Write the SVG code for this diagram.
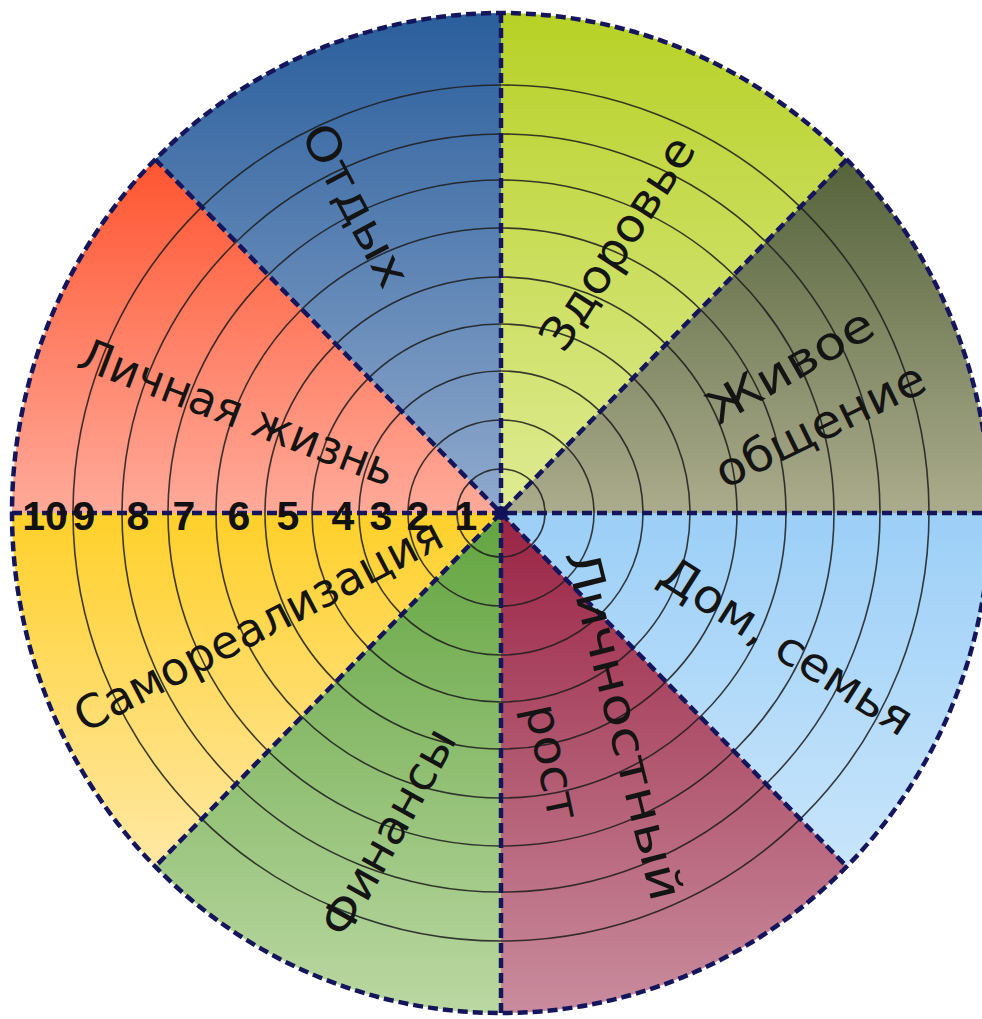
<svg xmlns="http://www.w3.org/2000/svg" width="982" height="1019" viewBox="0 0 982 1019">
<style>
.lbl{font-family:"DejaVu Sans","Noto Sans",sans-serif;font-size:46px;fill:#141414;text-anchor:middle;dominant-baseline:central}
.num{font-family:"Liberation Sans",Arial,sans-serif;font-weight:bold;font-size:41px;fill:#111;text-anchor:middle}
.ring{fill:none;stroke:#1c1c1c;stroke-width:1.6;stroke-opacity:0.85}
.dash{fill:none;stroke:#15155c;stroke-width:4.5;stroke-dasharray:10 5}
</style>
<defs>
<linearGradient id="gDom" x1="0" y1="0" x2="0" y2="1"><stop offset="0" stop-color="#9ccff7"/><stop offset="1" stop-color="#c8e5fb"/></linearGradient>
<linearGradient id="gRost" x1="0" y1="0" x2="0" y2="1"><stop offset="0" stop-color="#9a2343"/><stop offset="1" stop-color="#c98c9e"/></linearGradient>
<linearGradient id="gFin" x1="0" y1="0" x2="0" y2="1"><stop offset="0" stop-color="#62a43f"/><stop offset="1" stop-color="#bbd8a3"/></linearGradient>
<linearGradient id="gSam" x1="0" y1="0" x2="0" y2="1"><stop offset="0" stop-color="#ffd02a"/><stop offset="1" stop-color="#ffe8a4"/></linearGradient>
<linearGradient id="gLich" x1="0" y1="0" x2="0" y2="1"><stop offset="0" stop-color="#ff5530"/><stop offset="1" stop-color="#ffaa9a"/></linearGradient>
<linearGradient id="gOtd" x1="0" y1="0" x2="0" y2="1"><stop offset="0" stop-color="#2a5e9c"/><stop offset="1" stop-color="#90aacd"/></linearGradient>
<linearGradient id="gZdr" x1="0" y1="0" x2="0" y2="1"><stop offset="0" stop-color="#b7d126"/><stop offset="1" stop-color="#dfeb94"/></linearGradient>
<linearGradient id="gZhiv" x1="0" y1="0" x2="0" y2="1"><stop offset="0" stop-color="#55633a"/><stop offset="1" stop-color="#abac8d"/></linearGradient>
</defs>

<g id="sectors">
<g id="dom-semya">
<path d="M501,513 L990,513 A489,500 0 0,1 846.8,866.6 Z" fill="url(#gDom)"/>
</g>
<g id="lichnostny-rost">
<path d="M501,513 L846.8,866.6 A489,500 0 0,1 501,1013 Z" fill="url(#gRost)"/>
</g>
<g id="finansy">
<path d="M501,513 L501,1013 A489,500 0 0,1 155.2,866.6 Z" fill="url(#gFin)"/>
</g>
<g id="samorealizatsiya">
<path d="M501,513 L155.2,866.6 A489,500 0 0,1 12,513 Z" fill="url(#gSam)"/>
</g>
<g id="lichnaya-zhizn">
<path d="M501,513 L12,513 A489,500 0 0,1 155.2,159.4 Z" fill="url(#gLich)"/>
</g>
<g id="otdykh">
<path d="M501,513 L155.2,159.4 A489,500 0 0,1 501,13 Z" fill="url(#gOtd)"/>
</g>
<g id="zdorovye">
<path d="M501,513 L501,13 A489,500 0 0,1 846.8,159.4 Z" fill="url(#gZdr)"/>
</g>
<g id="zhivoe-obshchenie">
<path d="M501,513 L846.8,159.4 A489,500 0 0,1 990,513 Z" fill="url(#gZhiv)"/>
</g>
</g>

<g id="rings">
<circle class="ring" cx="501" cy="513" r="44"/>
<circle class="ring" cx="501" cy="513" r="93"/>
<circle class="ring" cx="501" cy="513" r="142"/>
<circle class="ring" cx="501" cy="513" r="189"/>
<circle class="ring" cx="501" cy="513" r="236"/>
<circle class="ring" cx="501" cy="513" r="285"/>
<circle class="ring" cx="501" cy="513" r="333"/>
<circle class="ring" cx="501" cy="513" r="379"/>
<circle class="ring" cx="501" cy="513" r="428"/>
</g>

<g id="connectors">
<ellipse class="dash" cx="501" cy="513" rx="489" ry="500"/>
<line class="dash" x1="12" y1="513" x2="990" y2="513"/>
<line class="dash" x1="501" y1="13" x2="501" y2="1013"/>
<line class="dash" x1="155.2" y1="159.4" x2="846.8" y2="866.6"/>
<line class="dash" x1="846.8" y1="159.4" x2="155.2" y2="866.6"/>
<circle cx="501" cy="513" r="7" fill="#12125a"/>
</g>

<g id="labels">
<text class="lbl" transform="translate(356,205) rotate(62)" textLength="178" lengthAdjust="spacingAndGlyphs">Отдых</text>
<text class="lbl" transform="translate(617,243) rotate(-57)" textLength="245" lengthAdjust="spacingAndGlyphs">Здоровье</text>
<text class="lbl" transform="translate(790,366) rotate(-30)" textLength="185" lengthAdjust="spacingAndGlyphs">Живое</text>
<text class="lbl" transform="translate(820,425) rotate(-26)" textLength="228" lengthAdjust="spacingAndGlyphs">общение</text>
<text class="lbl" transform="translate(787,646) rotate(32.5)" textLength="290" lengthAdjust="spacingAndGlyphs">Дом, семья</text>
<text class="lbl" transform="translate(624,725) rotate(76)" textLength="360" lengthAdjust="spacingAndGlyphs">Личностный</text>
<text class="lbl" transform="translate(553,762) rotate(78)" textLength="118" lengthAdjust="spacingAndGlyphs">рост</text>
<text class="lbl" transform="translate(388,832) rotate(-61)" textLength="230" lengthAdjust="spacingAndGlyphs">Финансы</text>
<text class="lbl" transform="translate(258,625) rotate(-27.5)" textLength="408" lengthAdjust="spacingAndGlyphs">Самореализация</text>
<text class="lbl" transform="translate(237,412) rotate(21)" textLength="335" lengthAdjust="spacingAndGlyphs">Личная жизнь</text>
</g>

<g id="scale">
<text class="num" x="45" y="530">10</text>
<text class="num" x="84" y="530">9</text>
<text class="num" x="138" y="530">8</text>
<text class="num" x="184" y="530">7</text>
<text class="num" x="239" y="530">6</text>
<text class="num" x="288" y="530">5</text>
<text class="num" x="343" y="530">4</text>
<text class="num" x="381" y="530">3</text>
<text class="num" x="418" y="530">2</text>
<text class="num" x="466" y="530">1</text>
</g>
</svg>
